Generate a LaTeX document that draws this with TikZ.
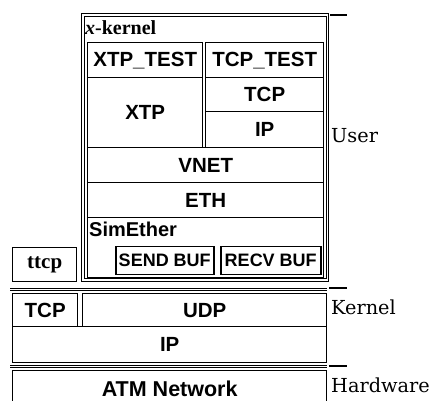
\documentclass[tikz,border=0pt]{standalone}
\usepackage{fontspec}
\setmainfont{Liberation Serif}
\setsansfont{Liberation Sans}
\newfontfamily\labfont{DejaVu Serif}
\begin{document}
\begin{tikzpicture}[x=1pt,y=-1pt,
  box/.style={draw, line width=1.4pt, inner sep=0pt, anchor=north west,
    font=\sffamily\bfseries\fontsize{20.5}{22}\selectfont},
  bufbox/.style={box, line width=1.5pt, font=\sffamily\bfseries\fontsize{18}{19}\selectfont},
  dline/.style={line width=1pt, double, double distance=1.5pt},
  tick/.style={line width=1.4pt},
  side/.style={anchor=west, inner sep=0pt, font=\labfont\fontsize{19.3}{21}\selectfont}]
\useasboundingbox (0,0) rectangle (432,401);
% x-kernel frame
\node[draw, dline, inner sep=0pt, anchor=north west, minimum width=244.5pt, minimum height=265pt] (xk) at (82.7,14.7) {};
\node[anchor=west, inner sep=0pt, font=\bfseries\fontsize{20}{22}\selectfont] (xkl) at (85,28) {\textit{x}-kernel};
% user level boxes
\node[box, minimum width=115pt, minimum height=35pt] (xtptest) at (87,42) {XTP\_TEST};
\node[box, minimum width=115pt, minimum height=70pt] (xtp) at (87,77) {XTP};
\node[box, minimum width=118pt, minimum height=35pt] (tcptest) at (205,42) {TCP\_TEST};
\node[box, minimum width=118pt, minimum height=34pt] (tcpu) at (205,77) {TCP};
\node[box, minimum width=118pt, minimum height=36pt] (ipu) at (205,111) {IP};
\node[box, minimum width=236pt, minimum height=35pt] (vnet) at (87,147) {VNET};
\node[box, minimum width=236pt, minimum height=35pt] (eth) at (87,182) {ETH};
\node[box, minimum width=236pt, minimum height=60pt] (sim) at (87,217) {};
\node[anchor=west, inner sep=0pt, font=\sffamily\bfseries\fontsize{20}{22}\selectfont] (siml) at (89,229) {SimEther};
\node[bufbox, minimum width=98pt, minimum height=28pt] (send) at (115,246) {SEND BUF};
\node[bufbox, minimum width=100pt, minimum height=28pt] (recv) at (220,246) {RECV BUF};
\node[box, minimum width=64pt, minimum height=34pt, font=\bfseries\fontsize{21}{23}\selectfont] (ttcp) at (12,247) {ttcp};
% kernel
\coordinate (k1) at (10,289.5);
\coordinate (k2) at (327,289.5);
\draw[dline] (k1) -- (k2);
\node[box, minimum width=65pt, minimum height=33pt] (tcpk) at (12,293) {TCP};
\node[box, minimum width=244pt, minimum height=33pt] (udp) at (82,293) {UDP};
\node[box, minimum width=314pt, minimum height=36pt] (ipk) at (12,326) {IP};
% hardware
\coordinate (h1) at (10,366.5);
\coordinate (h2) at (327,366.5);
\draw[dline] (h1) -- (h2);
\node[box, minimum width=314pt, minimum height=36pt, font=\sffamily\bfseries\fontsize{21.5}{23}\selectfont] (atm) at (12,370) {ATM Network};
% side labels
\coordinate (t1a) at (330,15);   \coordinate (t1b) at (347,15);
\coordinate (t2a) at (329,288);  \coordinate (t2b) at (347,288);
\coordinate (t3a) at (329,366);  \coordinate (t3b) at (347,366);
\draw[tick] (t1a) -- (t1b);
\draw[tick] (t2a) -- (t2b);
\draw[tick] (t3a) -- (t3b);
\node[side] (user) at (331,136) {User};
\node[side] (kern) at (331,307) {Kernel};
\node[side] (hard) at (331,385) {Hardware};
\end{tikzpicture}
\end{document}
